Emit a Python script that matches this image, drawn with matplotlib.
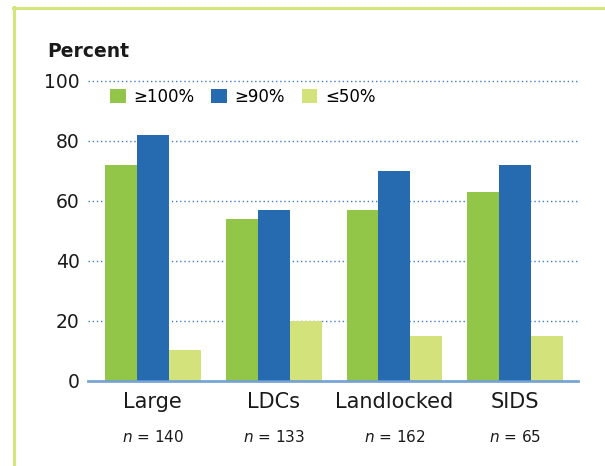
import numpy as np
import matplotlib
matplotlib.use("Agg")
import matplotlib.pyplot as plt
from matplotlib.lines import Line2D
from matplotlib.patches import Patch

# ==============================
# 1. Data
# ==============================
categories = ["Large", "LDCs", "Landlocked", "SIDS"]
n_labels = ["140", "133", "162", "65"]
series_names = ["\u2265100%", "\u226590%", "\u226450%"]
ge100 = [72, 54, 57, 63]
ge90 = [82, 57, 70, 72]
le50 = [10.5, 20, 15, 15]

colors = ["#92c648", "#266ab0", "#d4e27c"]
grid_color = "#3c7cc4"
axis_color = "#6b9bd2"
frame_color = "#d4e57a"

# ==============================
# 2. Figure / axes
# ==============================
W, H = 605, 466
fig = plt.figure(figsize=(W / 100, H / 100), dpi=100)
ax = fig.add_axes([88 / W, 1 - 381 / H, (578 - 88) / W, (381 - 81) / H])

x = np.arange(len(categories))
bw = 32 / 121

for i, (vals, c) in enumerate(zip([ge100, ge90, le50], colors)):
    ax.bar(x + (i - 1) * bw, vals, width=bw, color=c, zorder=2,
           label=series_names[i])

ax.set_xlim(-0.537, 3.52)
ax.set_ylim(0, 100)

# dotted gridlines
for yv in [20, 40, 60, 80, 100]:
    ax.axhline(yv, color=grid_color, lw=1.0, ls=(0, (1, 2)), zorder=1,
               clip_on=False)
# baseline
ax.axhline(0, color=axis_color, lw=2, zorder=3, alpha=0.9, clip_on=False)

for s in ax.spines.values():
    s.set_visible(False)

ax.set_yticks([0, 20, 40, 60, 80, 100])
ax.set_yticklabels(["0", "20", "40", "60", "80", "100"], fontsize=13.5,
                   color="#1a1a1a")
ax.set_xticks(x)
ax.set_xticklabels(categories, fontsize=15, color="#1a1a1a")
ax.tick_params(axis="y", length=0, pad=6)
ax.tick_params(axis="x", length=0, pad=8)

# n = ... labels
for xi, nl in zip(x, n_labels):
    ax.annotate("$n$ = " + nl, xy=(xi, 0), xycoords=("data", "axes fraction"),
                xytext=(0, -61), textcoords="offset pixels",
                ha="center", va="baseline", fontsize=11, color="#1a1a1a")

# ==============================
# 3. Legend
# ==============================
handles = [Patch(facecolor=c, edgecolor="none") for c in colors]
fig.legend(handles, series_names, loc="upper left",
           bbox_to_anchor=(110 / W, 1 - 88 / H), ncol=3, frameon=False,
           fontsize=12, handlelength=0.95, handleheight=0.95,
           handletextpad=0.45, columnspacing=1.0, borderpad=0,
           borderaxespad=0)

# ==============================
# 4. Title and frame
# ==============================
fig.text(47 / W, 1 - 57 / H, "Percent", fontsize=13.5, fontweight="bold",
         ha="left", va="baseline", color="#1a1a1a")

fig.add_artist(Line2D([13.5 / W, 13.5 / W], [0, 1 - 7 / H],
                      transform=fig.transFigure, color=frame_color, lw=2.2))
fig.add_artist(Line2D([12.5 / W, 1], [1 - 8.2 / H, 1 - 8.2 / H],
                      transform=fig.transFigure, color=frame_color, lw=2.2))

fig.savefig("out.png", dpi=100)
